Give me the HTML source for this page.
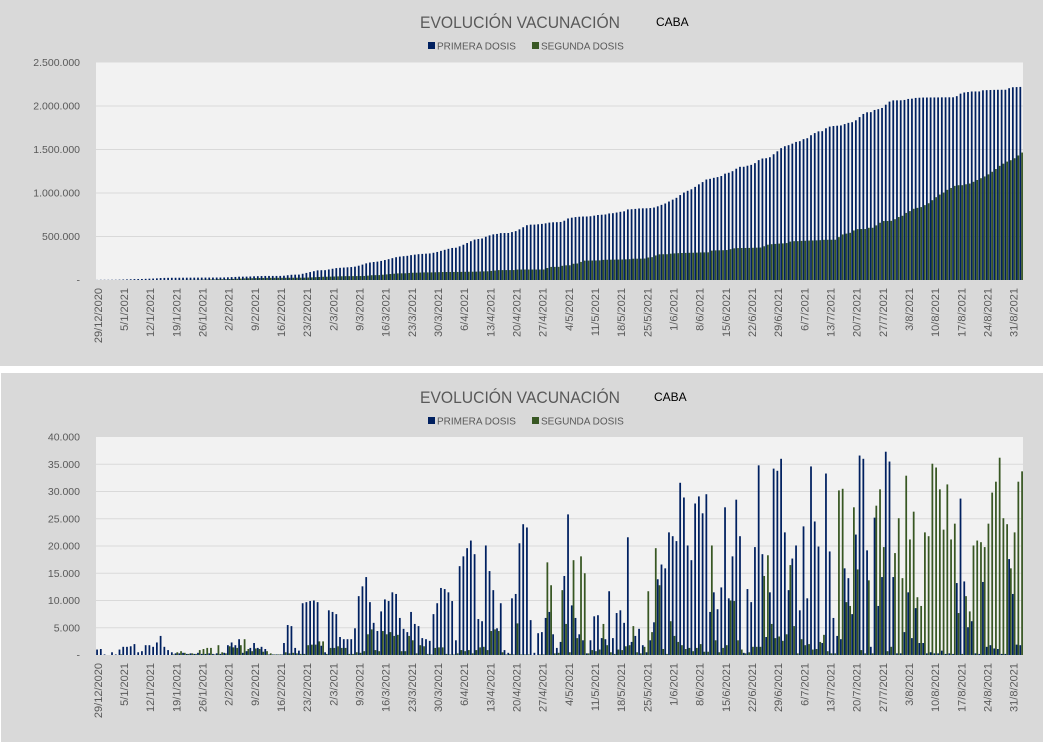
<!DOCTYPE html>
<html><head><meta charset="utf-8"><style>
html,body{margin:0;padding:0;background:#fff;}
svg{display:block;font-family:"Liberation Sans",sans-serif;}
</style></head><body>
<svg id="root" width="1043" height="742" viewBox="0 0 1043 742">
<rect x="0" y="0" width="1043" height="366" fill="#d9d9d9"/>
<rect x="1" y="373" width="1042" height="369" fill="#d9d9d9"/>
<g>
<text x="420" y="28" font-size="17" fill="#595959" textLength="200" lengthAdjust="spacingAndGlyphs">EVOLUCIÓN VACUNACIÓN</text>
<text x="656" y="26" font-size="12" fill="#000">CABA</text>
<rect x="428" y="42" width="7" height="7" fill="#002060"/>
<text x="437" y="49.5" font-size="10" fill="#595959">PRIMERA DOSIS</text>
<rect x="532" y="42" width="7" height="7" fill="#385723"/>
<text x="541" y="49.5" font-size="10" fill="#595959">SEGUNDA DOSIS</text>
</g>
<g>
<text x="420" y="403" font-size="17" fill="#595959" textLength="200" lengthAdjust="spacingAndGlyphs">EVOLUCIÓN VACUNACIÓN</text>
<text x="654" y="401" font-size="12" fill="#000">CABA</text>
<rect x="428" y="417" width="7" height="7" fill="#002060"/>
<text x="437" y="424.5" font-size="10" fill="#595959">PRIMERA DOSIS</text>
<rect x="532" y="417" width="7" height="7" fill="#385723"/>
<text x="541" y="424.5" font-size="10" fill="#595959">SEGUNDA DOSIS</text>
</g>
<g id="top"></g>
<g id="bot"></g>
</svg>
<script>
// Daily doses in thousands, day 0 = 29/12/2020
const primeraDaily = [
1.0,1.1,0.1,0,0.5,0.1,1.0,1.5,1.5,1.6,
2.0,0.5,0.7,1.8,1.8,1.5,2.3,3.5,1.5,0.9,
0.5,0.3,0.3,0.4,0.2,0.3,0.2,0.4,0.2,0.2,
0.3,0.2,0.3,0.2,0.4,1.8,2.3,1.8,2.9,0.4,
0.7,1.3,2.2,1.3,1.5,1.1,0.1,0.1,0.1,0.1,
2.2,5.5,5.3,1.3,0.8,9.5,9.7,9.9,10,9.7,
1.7,0.5,8.2,7.9,7.5,3.3,2.9,2.9,2.9,4.9,
10.8,12.6,14.3,9.7,5.9,4.4,8,10.2,9.9,11.5,
11.2,6.8,4.8,4.2,7.9,5.7,5.3,3.1,2.9,2.6,
7.5,9.5,12.3,12.1,11.5,9.9,2.7,16.3,18.1,19.6,
21,18.5,6.6,6.2,20.1,15.4,11.9,4.9,9.5,0.9,
0.4,10.4,11.2,20.5,24,23.4,6.4,0.4,4,4.2,
6.8,7.9,3.8,1.3,2.4,14.5,25.8,9.1,6.8,3.8,
2.7,0.3,2.7,7.1,7.3,3.1,2.9,11.7,3.1,7.7,
8.2,5.9,21.6,2.4,3.5,4.8,1.8,0.5,2.7,6,
13.9,16.6,15.9,22.5,21.8,20.9,31.6,28.9,20.1,17.4,
27.8,29.1,26,29.5,7.9,11.5,8.4,12.4,27.1,10.4,
18.1,28.5,21.8,0.4,12.1,9.7,19.8,34.8,18.5,3.3,
11.5,34.2,33.8,36,22.5,11.9,17.7,20.1,8.2,23.6,
10.4,34.6,24.5,19.9,2.2,33.3,19,6.8,3.5,2.9,
15.9,14.1,7.5,22.1,36.6,36,19.2,1.5,25.2,9,
14.3,37.3,35.5,14.3,0.3,0.3,4.2,11.5,3.1,8.6,
2.2,2.2,0.3,0.5,0.3,0.3,0.8,0.2,0.3,0.2,
13.2,28.7,13.5,5.1,6.2,0.3,0.2,13.4,1.5,1.8,
1.2,1.1,0.2,0.2,17.6,11.2,1.9,1.8];
const segundaDaily = [
0,0,0,0,0,0,0.1,0,0,0,
0,0,0,0,0,0,0,0,0,0,
0.1,0.5,0.7,0.4,0.2,0.3,0.2,0.9,1.1,1.3,
1.3,0.1,1.8,0.5,0.3,1.6,1.4,1.3,1.8,2.9,
1.1,0.7,1.2,1.1,0.6,0.7,0.3,0.1,0.1,0.1,
0.5,0.3,0.4,0.3,0.2,0.2,1.8,1.9,1.9,2.5,
2.5,0.2,1.3,1.3,1.6,1.3,1.3,0.2,0.2,0.5,
0.4,0.7,3.8,4.7,0.9,0.7,4.4,3.8,4.2,3.5,
3.7,0.7,0.7,3.5,2.7,0.3,1.8,1.6,0.2,0.1,
1.3,1.4,1.4,0.2,0.1,0.1,0.3,0.9,0.7,0.9,
0.3,0.9,1.4,1.5,0.9,4.4,4.7,4.4,0.5,0.1,
0.2,0.1,5.8,0.1,0.1,0.1,0,0,0.1,0.1,
17,12.8,0.3,0.4,11.9,5.7,0.5,17.4,3.1,18.1,
15,0.3,0.9,0.7,1.0,5.7,1.8,0.5,0.2,1.0,
0.9,1.6,1.8,5.3,0.5,0.3,1.5,11.7,4.2,19.6,
12.8,1.1,0.2,6.2,3.5,2.4,1.8,1.1,1.3,0.7,
1.3,2.0,0.6,0.6,20.1,2.7,0.5,1.3,1.8,10,
9.9,2.7,1.0,0.3,0.5,1.5,1.5,1.5,14.5,18.3,
5.7,3.1,3.4,2.6,3.8,16.5,5.3,0.3,2.9,1.8,
2.0,1.0,1.1,2.4,3.7,0.7,0.3,0.3,30.2,30.5,
9.7,9,27.1,15.7,0.9,0.3,13.7,0.3,27.4,30.4,
19.8,0.7,1.5,18.7,25.1,14.1,32.9,21.2,26.3,10.6,
9,22.5,21.8,35.1,34.4,30.4,23,31.3,21.2,24.1,
7.7,0.2,10.8,8,20.1,21,20.7,19.8,24.1,29.8,
31.8,36.2,25.1,24,15.9,22.5,31.8,33.7];
const dateLabels = ["29/12/2020","5/1/2021","12/1/2021","19/1/2021","26/1/2021","2/2/2021","9/2/2021","16/2/2021","23/2/2021","2/3/2021","9/3/2021","16/3/2021","23/3/2021","30/3/2021","6/4/2021","13/4/2021","20/4/2021","27/4/2021","4/5/2021","11/5/2021","18/5/2021","25/5/2021","1/6/2021","8/6/2021","15/6/2021","22/6/2021","29/6/2021","6/7/2021","13/7/2021","20/7/2021","27/7/2021","3/8/2021","10/8/2021","17/8/2021","24/8/2021","31/8/2021"];
const topTicks = [0,500000,1000000,1500000,2000000,2500000];
const topTickLabels = ["-","500.000","1.000.000","1.500.000","2.000.000","2.500.000"];
const botTicks = [0,5000,10000,15000,20000,25000,30000,35000,40000];
const botTickLabels = ["-","5.000","10.000","15.000","20.000","25.000","30.000","35.000","40.000"];
const labelEvery = 7;

const NS = "http://www.w3.org/2000/svg";
const X0 = 96, X1 = 1023;
const nDays = Math.max(primeraDaily.length, segundaDaily.length);
const step = (X1 - X0) / nDays;
function xDay(i){ return X0 + i * step; }
function mk(tag, attrs, parent){
  const e = document.createElementNS(NS, tag);
  for (const k in attrs) e.setAttribute(k, attrs[k]);
  parent.appendChild(e); return e;
}
function cumulative(arr){ const out=[]; let s=0; for (const v of arr){ s += v*1000; out.push(s);} return out; }

function drawChart(g, top, bottom, maxV, ticks, tickLabels, s1, s2, prefix, labelY){
  const y = v => bottom - v / maxV * (bottom - top);
  const bg = mk('rect', {x:X0, y:top, width:X1-X0, height:bottom-top, fill:'#f2f2f2'}, g);
  
  
  ticks.forEach((t, k) => {
    if (t > 0 && t < maxV) {
      const gl = mk('line', {x1:X0, x2:X1, y1:y(t), y2:y(t), stroke:'#d9d9d9', 'stroke-width':1}, g);
      
      
    }
    const tl = mk('text', {x:80, y:y(t)+3.5, 'font-size':10.5, fill:'#595959', 'text-anchor':'end'}, g);
    tl.textContent = tickLabels[k];
    
    
  });
  const bw = step * 0.47;
  for (let i = 0; i < nDays; i++) {
    const v1 = s1[i] || 0, v2 = s2[i] || 0;
    const xb = xDay(i) + step*0.05;
    const b1 = mk('rect', {x:xb, y:y(v1), width:bw, height:bottom - y(v1), fill:'#002060'}, g);
    
    
    const b2 = mk('rect', {x:xb+bw, y:y(v2), width:bw, height:bottom - y(v2), fill:'#385723'}, g);
    
    
  }
  dateLabels.forEach((lab, k) => {
    const cx = xDay(k*labelEvery) + step/2 + 4;
    const t = mk('text', {x:0, y:0, 'font-size':11, fill:'#595959', 'text-anchor':'end', transform:'translate('+cx+','+labelY+') rotate(-90)'}, g);
    t.textContent = lab;
    
    
  });
}
drawChart(document.getElementById('top'), 62.5, 280, 2500000, topTicks, topTickLabels,
  cumulative(primeraDaily), cumulative(segundaDaily), 'cumulative', 288);
drawChart(document.getElementById('bot'), 437, 655, 40000, botTicks, botTickLabels,
  primeraDaily.map(v=>v*1000), segundaDaily.map(v=>v*1000), 'daily', 663);
</script>
</body></html>
